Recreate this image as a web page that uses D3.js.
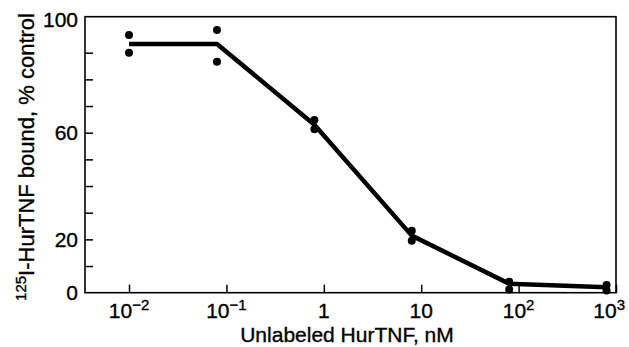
<!DOCTYPE html>
<html>
<head>
<meta charset="utf-8">
<script src="https://cdn.jsdelivr.net/npm/d3@7"></script>
<style>
	body { margin: 0; background: #fff; }
	text { font-family: "Liberation Sans", Arial, Helvetica, sans-serif; fill: #000; stroke: #000; stroke-width: 0.35px; }
</style>
</head>
<body>
<div id="graph"></div>
<script>
let width = 629;
let height = 347;

let padding = {
	top: 16.7,
	right: 13,
	bottom: 54.3,
	left: 85
	};

// Concentrations (nM) and the two replicate measurements at each:
let conc = [0.01, 0.08, 0.8, 8, 80, 800];
let repA = [96.6, 98.5, 64.8, 23.2, 4.1, 2.9];
let repB = [90.0, 86.6, 61.3, 19.5, 1.2, 0.8];
// Curve drawn through the points:
let curve = [93.3, 93.3, 63.0, 21.4, 3.4, 2.0];

// Axis ticks and labels:
let xTickValues = [0.01, 0.1, 1, 10, 100, 1000];
let xTickBase = ["10", "10", "1", "10", "10", "10"];
let xTickSup = ["\u22122", "\u22121", "", "", "2", "3"];
let yMinorTicks = [10, 20, 30, 40, 50, 60, 70, 80, 90];
let yLabelTicks = [0, 20, 60, 100];

let xMin = Math.pow(10, -2.452);
let yMax = 103.5;

let svg = d3.select("#graph")
	.append("svg")
		.attr("width", width)
		.attr("height", height)
	;

let xScale = d3.scaleLog()
	.domain([xMin, 1000])
	.range([padding.left, width - padding.right])
	;
let yScale = d3.scaleLinear()
	.domain([0, yMax])
	.range([height - padding.bottom, padding.top])
	;

// the top label sits on the frame edge in the original
let yLabelPos = v => v === 100 ? yScale(yMax) + 3 : yScale(v);

// Frame:
svg.append("rect")
	.attr("x", xScale(xMin))
	.attr("y", yScale(yMax))
	.attr("width", xScale(1000) - xScale(xMin))
	.attr("height", yScale(0) - yScale(yMax))
	.attr("fill", "none")
	.attr("stroke", "#000")
	.attr("stroke-width", 1.6)
	;

// Inward ticks, no labels from the axis itself:
svg.append("g")
	.attr("transform", `translate(${xScale(xMin)},0)`)
	.call(d3.axisLeft(yScale).tickValues(yMinorTicks).tickSize(-8).tickSizeOuter(0).tickFormat(""))
	.call(g => g.select(".domain").remove())
	.call(g => g.selectAll("line").attr("stroke-width", 1.5))
	;
svg.append("g")
	.attr("transform", `translate(0,${yScale(0)})`)
	.call(d3.axisBottom(xScale).tickValues(xTickValues).tickSize(-8).tickSizeOuter(0).tickFormat(""))
	.call(g => g.select(".domain").remove())
	.call(g => g.selectAll("line").attr("stroke-width", 1.5))
	;

// Y tick labels
svg.append("g")
	.selectAll("text")
	.data(yLabelTicks)
	.enter()
		.append("text")
			.attr("x", 78)
			.attr("y", d => yLabelPos(d))
			.attr("dy", "0.36em")
			.attr("text-anchor", "end")
			.style("font-size", "21px")
			.text(d => d)
	;

// X tick labels with superscript exponents (last one kept inside the page)
let lastX = xTickValues.length - 1;
let xLab = svg.append("g")
	.selectAll("text")
	.data(xTickValues)
	.enter()
		.append("text")
			.attr("x", (d, i) => i === lastX ? width - 4 : xScale(d))
			.attr("y", 318)
			.attr("text-anchor", (d, i) => i === lastX ? "end" : "middle")
			.style("font-size", "21px")
	;
xLab.append("tspan").text((d, i) => xTickBase[i]);
xLab.append("tspan")
	.attr("dy", "-8")
	.style("font-size", "15px")
	.text((d, i) => xTickSup[i]);

// Axis titles
svg.append("text")
	.attr("x", 347)
	.attr("y", 342)
	.attr("text-anchor", "middle")
	.style("font-size", "21px")
	.text("Unlabeled HurTNF, nM")
	;

let yTitle = svg.append("text")
	.attr("transform", "translate(34,157) rotate(-90)")
	.attr("text-anchor", "middle")
	.style("font-size", "22px")
	;
yTitle.append("tspan").attr("dy", "-8").style("font-size", "15px").text("125");
yTitle.append("tspan").attr("dy", "8").text("I-HurTNF bound, % control");

// Curve
let line = d3.line()
	.x((d, i) => xScale(conc[i]))
	.y(d => yScale(d))
	;
svg.append("path")
	.datum(curve)
	.attr("d", line)
	.attr("fill", "none")
	.attr("stroke", "#000")
	.attr("stroke-width", 4.5)
	.attr("stroke-linejoin", "round")
	;

// Replicate points
let pts = conc.map((c, i) => [c, repA[i]]).concat(conc.map((c, i) => [c, repB[i]]));
svg.append("g")
	.selectAll("circle")
	.data(pts)
	.enter()
		.append("circle")
			.attr("cx", d => xScale(d[0]))
			.attr("cy", d => yScale(d[1]))
			.attr("r", 4)
			.attr("fill", "#000")
	;
</script>
</body>
</html>
